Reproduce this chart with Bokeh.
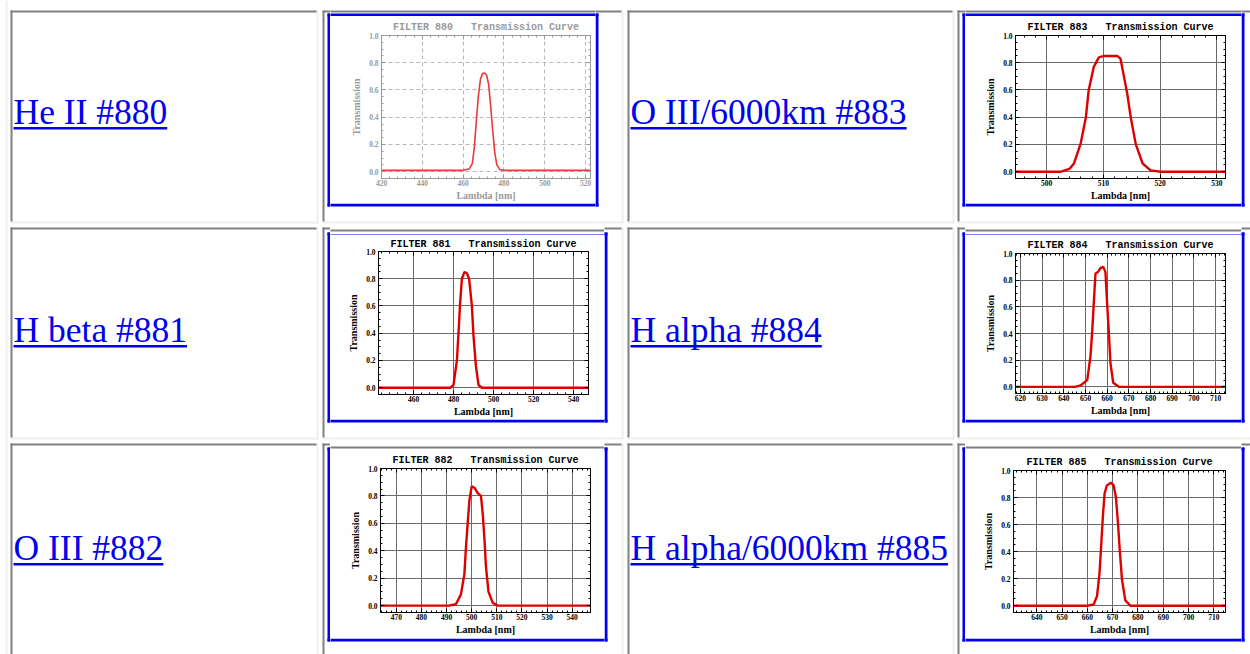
from bokeh.plotting import figure
from bokeh.models import Range1d, FixedTicker, LinearAxis, PrintfTickFormatter
from bokeh.layouts import row, column
from bokeh.core.properties import value
from bokeh.embed import file_html
from bokeh.resources import INLINE

# ---------------- data ----------------
link_labels = ["He II #880", "O III/6000km #883",
               "H beta #881", "H alpha #884",
               "O III #882", "H alpha/6000km #885"]

filter_ids = [880, 883, 881, 884, 882, 885]

wl_880 = [420, 460, 463, 464.5, 465.5, 466.5, 467.5, 468.5, 469.5, 470.5, 471.5,
          472.5, 473.5, 474.5, 475.5, 476.5, 478, 480, 522.4]
tr_880 = [0.01, 0.01, 0.02, 0.06, 0.18, 0.38, 0.56, 0.68, 0.72, 0.725, 0.71,
          0.64, 0.48, 0.30, 0.14, 0.05, 0.015, 0.01, 0.01]

wl_883 = [494.5, 502.5, 504.0, 504.8, 506.0, 506.9, 507.4, 508.3, 508.8, 509.2, 510.1,
          511.3, 512.4, 513.0, 513.6, 514.2, 514.8, 515.7, 516.9, 518.3, 520.1, 531.5]
tr_883 = [0.0, 0.0, 0.02, 0.06, 0.21, 0.40, 0.60, 0.77, 0.81, 0.84, 0.85,
          0.85, 0.85, 0.83, 0.70, 0.57, 0.40, 0.20, 0.06, 0.01, 0.0, 0.0]

wl_881 = [442.5, 478.5, 480.0, 481.7, 482.5, 483.3, 484.2, 485.5, 486.7, 487.8,
          489.2, 490.0, 491.2, 492.5, 494.2, 547.5]
tr_881 = [0.0, 0.0, 0.02, 0.20, 0.40, 0.62, 0.80, 0.85, 0.84, 0.80,
          0.60, 0.38, 0.16, 0.02, 0.0, 0.0]

wl_884 = [617.7, 645.0, 647.7, 650.8, 652.3, 653.1, 653.8, 654.6, 655.7, 656.9,
          658.2, 659.2, 660.0, 660.8, 661.5, 662.8, 665.4, 714.6]
tr_884 = [0.0, 0.0, 0.01, 0.05, 0.23, 0.42, 0.62, 0.85, 0.86, 0.89,
          0.90, 0.86, 0.62, 0.40, 0.18, 0.03, 0.0, 0.0]

wl_882 = [463.7, 491.0, 493.7, 495.7, 497.1, 497.7, 498.4, 499.1, 500.0, 501.1,
          502.4, 503.7, 504.4, 505.1, 505.7, 506.7, 508.4, 510.4, 547.3]
tr_882 = [0.0, 0.0, 0.01, 0.08, 0.23, 0.42, 0.60, 0.77, 0.87, 0.86,
          0.82, 0.80, 0.67, 0.48, 0.28, 0.10, 0.02, 0.0, 0.0]

wl_885 = [630.8, 660.0, 662.5, 663.8, 664.8, 665.5, 666.2, 666.8, 667.7, 669.3,
          670.4, 671.3, 672.1, 672.8, 673.7, 675.0, 677.0, 714.6]
tr_885 = [0.0, 0.0, 0.01, 0.07, 0.24, 0.46, 0.68, 0.83, 0.89, 0.91,
          0.89, 0.80, 0.61, 0.41, 0.19, 0.04, 0.0, 0.0]

xticks_880 = [420, 440, 460, 480, 500, 520]
xticks_883 = [500, 510, 520, 530]
xticks_881 = [460, 480, 500, 520, 540]
xticks_884 = [620, 630, 640, 650, 660, 670, 680, 690, 700, 710]
xticks_882 = [470, 480, 490, 500, 510, 520, 530, 540]
xticks_885 = [640, 650, 660, 670, 680, 690, 700, 710]
yticks = [0.0, 0.2, 0.4, 0.6, 0.8, 1.0]

curves = {880: (wl_880, tr_880, xticks_880), 883: (wl_883, tr_883, xticks_883),
          881: (wl_881, tr_881, xticks_881), 884: (wl_884, tr_884, xticks_884),
          882: (wl_882, tr_882, xticks_882), 885: (wl_885, tr_885, xticks_885)}

# ---------------- page geometry (page pixels) ----------------
PAGE_X0, PAGE_X1, PAGE_Y0, PAGE_Y1 = 0, 1250, 0, 654
LINK = "#0000ee"
DARK = "#808080"
LIGHT = "#efefef"
BLUE = "#0000ee"

COLS = [(10, 318), (322, 623), (627, 954), (957, 1262)]
ROWS = [(10, 223), (227, 439), (443, 665)]
BANDS = [(0, 225), (225, 441), (441, 654)]
BASELINES = [123, 341, 559]
BLUEBOX = [[(327, 598, 13, 206), (962, 1244, 13, 206)],
           [(327, 607, 232, 422), (962, 1244, 232, 422)],
           [(327, 607, 447, 641), (962, 1244, 447, 641)]]
FRAMES = [[(381, 590, 35, 179), (1015, 1225, 35, 178)],
          [(378, 588, 250, 395), (1015, 1225, 253, 393)],
          [(380, 590, 468, 612), (1013, 1225, 470, 612)]]
XRANGES = {880: (420, 522.4), 883: (494.5, 531.5), 881: (442.5, 547.5),
           884: (617.7, 714.6), 882: (463.7, 547.3), 885: (630.8, 714.6)}
TITLE_STANDOFF = {880: 5, 883: 5, 881: 3, 884: 5, 882: 5, 885: 5}

FONT_PX = 35.5
TW = {'H': 722, 'e': 444, ' ': 250, 'I': 333, '#': 500, 'b': 500, 't': 278, 'a': 444,
      'l': 278, 'p': 500, 'h': 500, 'O': 722, '/': 278, 'k': 500, 'm': 778}


def text_width(s):
    return sum(TW.get(ch, 500) for ch in s) * FONT_PX / 1000.0


QUADS = [(5, 7, 0, 654, LIGHT)]
TEXTS = []
for r, (ct, cb) in enumerate(ROWS):
    for c, (cl, cr) in enumerate(COLS):
        QUADS.append((cl, cr, cb - 2, cb, LIGHT))
        QUADS.append((cr - 2, cr, ct, cb, LIGHT))
        QUADS.append((cl, cr - 2, ct, ct + 2, DARK))
        QUADS.append((cl, cl + 2, ct, cb - 2, DARK))
    for k in range(2):
        bx0, bx1, by0, by1 = BLUEBOX[r][k]
        QUADS += [(bx0, bx1, by0, by0 + 3, BLUE), (bx0, bx1, by1 - 3, by1, BLUE),
                  (bx0, bx0 + 3, by0, by1, BLUE), (bx1 - 3, bx1, by0, by1, BLUE)]
        label = link_labels[2 * r + k]
        tx = COLS[2 * k][0] + 3
        base = BASELINES[r]
        TEXTS.append((tx, base, label))
        QUADS.append((tx, tx + text_width(label), base + 3.5, base + 6, LINK))


def strip(x0, x1, y0, y1):
    p = figure(width=x1 - x0, height=y1 - y0, x_range=Range1d(x0, x1),
               y_range=Range1d(y1, y0), x_axis_type=None, y_axis_type=None,
               tools="", toolbar_location=None, output_backend="svg", min_border=0,
               frame_align=False)
    p.outline_line_color = None
    p.background_fill_color = "white"
    p.border_fill_color = "white"
    sel = [q for q in QUADS if q[0] < x1 and q[1] > x0 and q[2] < y1 and q[3] > y0]
    if sel:
        p.quad(left=[q[0] for q in sel], right=[q[1] for q in sel],
               top=[q[2] for q in sel], bottom=[q[3] for q in sel],
               fill_color=[q[4] for q in sel], line_color=None)
    ts = [t for t in TEXTS if x0 <= t[0] < x1 and y0 <= t[1] < y1]
    if ts:
        # "middle" sits 0.3375 em above the alphabetic baseline for this face
        p.text(x=[t[0] for t in ts], y=[t[1] - 0.3375 * FONT_PX for t in ts],
               text=[t[2] for t in ts],
               text_font=value("Liberation Serif"), text_font_size=f"{FONT_PX}px",
               text_color=LINK, text_baseline="middle", text_align="left")
    return p


def chart(fid, inner, frame):
    wl, tr, xt = curves[fid]
    ix0, ix1, iy0, iy1 = inner
    fx0, fx1, fy0, fy1 = frame
    faded = fid == 880
    ink = "#9a9a9a" if faded else "#000000"
    gridc = "#b8b8b8" if faded else "#6a6a6a"
    p = figure(width=ix1 - ix0, height=iy1 - iy0, x_range=Range1d(*XRANGES[fid]),
               y_range=Range1d(-0.05, 1.0), tools="", toolbar_location=None,
               output_backend="svg", frame_align=False,
               min_border_left=fx0 - ix0, min_border_right=ix1 - fx1,
               min_border_top=fy0 - iy0, min_border_bottom=iy1 - fy1)
    p.background_fill_color = "white"
    p.border_fill_color = "white"
    p.outline_line_color = ink

    step = xt[1] - xt[0]
    ms = step / 5.0
    x0, x1 = XRANGES[fid]
    xminor = []
    v = xt[0] - step
    while v <= x1 + 1e-9:
        if v >= x0 - 1e-9:
            xminor.append(round(v, 6))
        v += ms
    yminor = [round(i * 0.05, 3) for i in range(0, 21)]

    def mk_xt():
        return FixedTicker(ticks=xt, minor_ticks=xminor)

    def mk_yt():
        return FixedTicker(ticks=yticks, minor_ticks=yminor)

    common = dict(major_tick_in=4, major_tick_out=0, minor_tick_in=2, minor_tick_out=0,
                  axis_line_color=ink, major_tick_line_color=ink, minor_tick_line_color=ink)

    xa = p.xaxis[0]
    xa.ticker = mk_xt()
    xa.axis_label = "Lambda [nm]"
    ya = p.yaxis[0]
    ya.ticker = mk_yt()
    ya.formatter = PrintfTickFormatter(format="%.1f")
    ya.axis_label = "Transmission"
    for ax in (xa, ya):
        for k, vv in common.items():
            setattr(ax, k, vv)
        ax.major_label_text_font = "Liberation Serif"
        ax.major_label_text_font_style = "bold"
        ax.major_label_text_font_size = "7.5px"
        ax.major_label_text_color = ink
        ax.axis_label_text_font = "Liberation Serif"
        ax.axis_label_text_font_style = "bold"
        ax.axis_label_text_font_size = "10px"
        ax.axis_label_text_color = ink
    xa.major_label_standoff = 1
    xa.axis_label_standoff = 1
    ya.major_label_standoff = 3
    ya.axis_label_standoff = 4

    hidden = dict(major_label_text_font_size="0px", major_label_text_color=None,
                  major_label_standoff=0)
    top = LinearAxis(ticker=mk_xt(), **hidden, **common)
    right = LinearAxis(ticker=mk_yt(), **hidden, **common)
    p.add_layout(top, "above")
    p.add_layout(right, "right")

    p.xgrid.ticker = mk_xt()
    p.ygrid.ticker = mk_yt()
    for g in (p.xgrid[0], p.ygrid[0]):
        g.grid_line_color = gridc
        g.grid_line_width = 1
        if faded:
            g.grid_line_dash = "4 3"

    p.title.text = f"FILTER {fid}\u00a0\u00a0 Transmission Curve"
    p.title.align = "center"
    p.title.text_font = "Liberation Mono"
    p.title.text_font_style = "bold"
    p.title.text_font_size = "10px"
    p.title.text_color = ink
    p.title.standoff = TITLE_STANDOFF[fid]

    p.line(wl, tr, line_color="#e83a3a" if faded else "#dd0000",
           line_width=1.6 if faded else 2.4)
    return p


rows_out = []
for r in range(3):
    b0, b1 = BANDS[r]
    inners = []
    for k in range(2):
        bx0, bx1, by0, by1 = BLUEBOX[r][k]
        inners.append((bx0 + 3, bx1 - 3, by0 + 3, by1 - 3))
    kids = [strip(PAGE_X0, inners[0][0], b0, b1)]
    for k in range(2):
        ix0, ix1, iy0, iy1 = inners[k]
        fid = filter_ids[2 * r + k]
        kids.append(column(strip(ix0, ix1, b0, iy0),
                           chart(fid, inners[k], FRAMES[r][k]),
                           strip(ix0, ix1, iy1, b1), spacing=0))
        nxt = inners[1][0] if k == 0 else PAGE_X1
        if nxt > ix1:
            kids.append(strip(ix1, nxt, b0, b1))
    rows_out.append(row(*kids, spacing=0))

page = column(*rows_out, spacing=0)

with open("out.html", "w") as f:
    f.write(file_html(page, INLINE, title="Filter transmission curves"))
